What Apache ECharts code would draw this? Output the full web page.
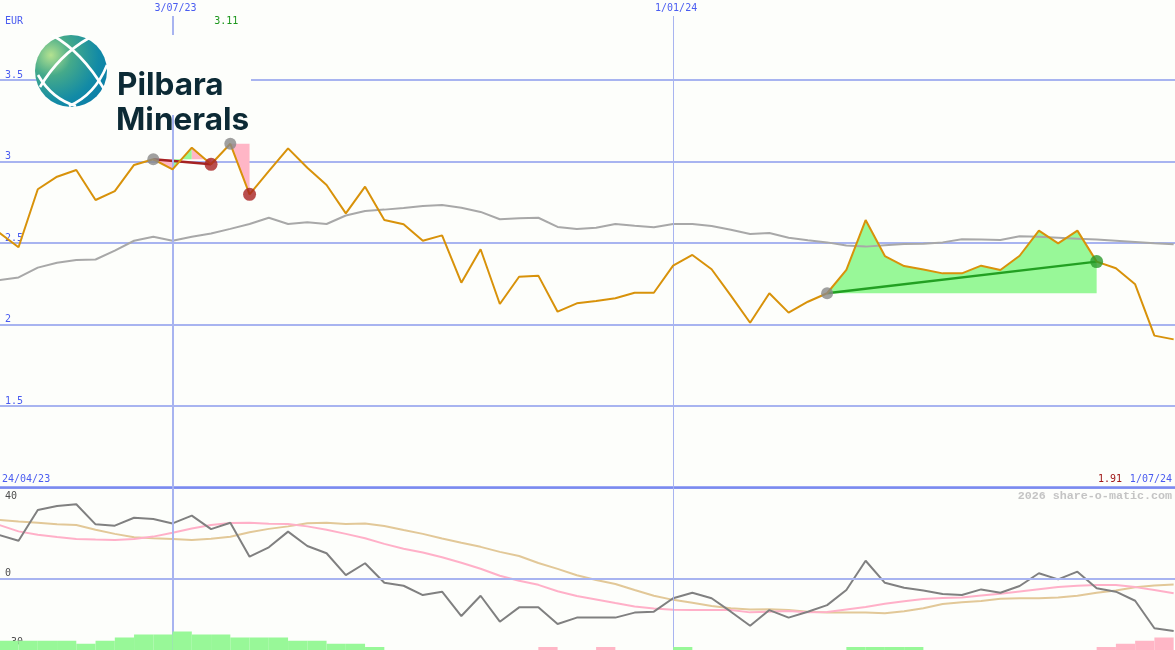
<!DOCTYPE html>
<html><head><meta charset="utf-8">
<script src="https://cdn.jsdelivr.net/npm/echarts@6/dist/echarts.min.js"></script>
<style>html,body{margin:0;padding:0;background:#fdfefb;}#c{width:1175px;height:650px;}</style>
</head><body><div id="c"></div>
<script>
// ---------- DATA (weekly points, week index k = 1..62; week 0 = 24/04/23) ----------
const startWeek = '2023-04-24';
const currency = 'EUR';
const price = [2.564,2.475,2.831,2.908,2.949,2.765,2.820,2.980,3.015,2.953,
  3.086,2.984,3.11,2.80,2.942,3.082,2.963,2.857,2.683,2.847,
  2.642,2.616,2.515,2.548,2.258,2.463,2.127,2.294,2.301,2.080,
  2.131,2.145,2.162,2.196,2.196,2.362,2.428,2.340,2.178,2.012,
  2.193,2.074,2.141,2.193,2.336,2.642,2.421,2.360,2.339,2.315,
  2.315,2.362,2.336,2.423,2.577,2.499,2.577,2.387,2.346,2.248,
  1.933,1.91];
const movingAvg = [2.274,2.29,2.35,2.38,2.397,2.40,2.455,2.515,2.54,2.515,
  2.54,2.56,2.588,2.618,2.656,2.618,2.628,2.618,2.67,2.698,
  2.706,2.716,2.728,2.734,2.718,2.692,2.647,2.653,2.656,2.600,
  2.587,2.595,2.618,2.607,2.598,2.618,2.618,2.606,2.583,2.556,
  2.562,2.533,2.518,2.505,2.486,2.479,2.488,2.495,2.497,2.505,
  2.524,2.522,2.52,2.542,2.54,2.534,2.528,2.522,2.515,2.508,
  2.50,2.493];
const oscillator = [19.2,16.7,30.2,32.0,32.7,23.9,23.3,26.8,26.2,24.3,
  27.7,21.8,24.6,9.7,13.8,20.7,14.4,11.2,1.6,6.8,
  -1.8,-3.1,-7.2,-5.7,-16.4,-7.5,-18.9,-12.6,-12.6,-19.9,
  -17.1,-17.1,-17.1,-14.9,-14.5,-8.6,-6.2,-8.6,-14.5,-20.7,
  -13.8,-17.1,-14.5,-11.6,-5.0,7.9,-1.8,-4.0,-5.2,-6.7,
  -7.2,-4.7,-6.2,-3.2,2.4,-0.3,3.1,-4.2,-5.7,-9.7,
  -21.8,-23.0];
const signalPink = [23.6,20.8,19.3,18.3,17.5,17.2,17.0,17.4,18.5,20.2,
  22.1,23.6,24.5,24.6,24.2,24.0,23.0,21.5,19.7,17.8,
  15.3,13.2,11.5,9.4,7.0,4.4,1.3,-0.9,-2.7,-5.5,
  -7.6,-9.1,-10.7,-12.2,-13.1,-13.6,-13.8,-13.8,-13.8,-14.8,
  -14.5,-14.2,-14.8,-14.6,-13.5,-12.4,-11.0,-9.9,-8.9,-8.5,
  -8.3,-7.4,-6.6,-5.6,-4.6,-3.7,-3.1,-2.8,-2.8,-3.7,
  -5.0,-6.4];
const signalTan = [25.8,25.1,24.6,23.9,23.6,21.5,19.7,18.2,17.8,17.5,
  17.0,17.6,18.4,20.4,21.9,23.0,24.4,24.6,24.0,24.3,
  23.2,21.4,19.7,17.7,15.8,14.0,11.8,10.0,6.9,4.3,
  1.5,-0.6,-2.3,-5.0,-7.5,-9.3,-10.6,-12.0,-13.0,-13.5,
  -13.4,-13.8,-14.5,-14.9,-14.9,-14.9,-15.2,-14.3,-13.0,-11.1,
  -10.3,-9.8,-8.8,-8.6,-8.6,-8.3,-7.5,-6.2,-5.2,-3.8,
  -3.0,-2.5];
// histogram levels for the interval [k, k+1], k = 1..61 (+ green, - pink)
const histLevels = [3,3,3,3,2,3,4,5,5,6, 5,5,4,4,4,3,3,2,2,1,
  0,0,0,0,0,0,0,0,-1,0, 0,-1,0,0,0,1,0,0,0,0,
  0,0,0,0,1,1,1,1,0,0, 0,0,0,0,0,0,0,-1,-2,-3, -4];
// trades: start week, end week, won?
const trades = [{start:9,end:12,win:false,line:true},{start:13,end:14,win:false,line:false},{start:44,end:58,win:true,line:true}];
// shaded segments: [fromWeek, toWeek, sign, tradeStartWeek]
const shadeSegs = [[9,10,-1,9],[10,11,1,9],[11,12,-1,9],[13,14,-1,13],[44,58,1,44]];
const markerWeeks = [10,36];
const priceTicks = [1.5,2,2.5,3,3.5];
const oscTicks = [0,-30];
const brandLine1 = 'Pilbara', brandLine2 = 'Minerals';
const watermark = '2026 share-o-matic.com';

// week labels
const weeks = [];
(function(){const d0=new Date(startWeek+'T00:00:00Z');for(let k=0;k<=62;k++){const d=new Date(d0.getTime()+k*7*864e5);weeks.push(d.getUTCDate()+'/'+String(d.getUTCMonth()+1).padStart(2,'0')+'/'+String(d.getUTCFullYear()).slice(2));}})();

// ---------- STYLE ----------
const BG='#fdfefb', GRIDC='#a8b4f0', BLUE='#4a5cf0', MONO='"DejaVu Sans Mono", monospace';
const PINK_FILL='#ffb6c6', GREEN_FILL='#98f898';
const X_MIN=1.037, X_MAX=62.07;

const chart = echarts.init(document.getElementById('c'), null, {renderer:'canvas'});
const idx = arr => arr.map((v,i)=>[i+1,v]);

const option = {
  animation:false,
  backgroundColor:BG,
  grid:[
    {left:0,right:0,top:-1.3,height:489,containLabel:false,outerBoundsMode:'none'},
    {left:0,right:0,top:487.7,height:182,containLabel:false,outerBoundsMode:'none'}
  ],
  xAxis:[
    {gridIndex:0,type:'value',min:X_MIN,max:X_MAX,position:'bottom',
     axisLine:{show:true,onZero:false,lineStyle:{color:'#7a8af0',width:2.5}},axisTick:{show:false},axisLabel:{show:false},splitLine:{show:false}},
    {gridIndex:1,type:'value',min:X_MIN,max:X_MAX,axisLine:{show:false},axisTick:{show:false},axisLabel:{show:false},splitLine:{show:false}}
  ],
  yAxis:[
    {gridIndex:0,type:'value',min:1,max:4,interval:0.5,axisLine:{show:false},axisTick:{show:false},
     splitLine:{show:true,lineStyle:{color:GRIDC,width:2}},
     axisLabel:{inside:true,margin:5,verticalAlign:'bottom',color:BLUE,fontFamily:MONO,fontSize:10,
       showMinLabel:true,showMaxLabel:true,
       formatter:v=>priceTicks.includes(v)?String(v):''}},
    {gridIndex:1,type:'value',min:-40,max:40,interval:10,axisLine:{show:false},axisTick:{show:false},
     splitLine:{show:false},
     axisLabel:{inside:true,margin:5,verticalAlign:'bottom',color:'#4d4d4d',fontFamily:MONO,fontSize:10,
       formatter:v=>oscTicks.includes(v)?String(v):''}},
    {gridIndex:1,type:'value',min:-6.355,max:52.355,show:false}
  ],
  series:[
    {type:'custom',name:'shade',xAxisIndex:0,yAxisIndex:0,z:2,clip:true,
     data:shadeSegs,encode:{x:[0,1],y:2},
     renderItem:(params,api)=>{
       const a=api.value(0),b=api.value(1),s=api.value(2),lk=api.value(3);
       const lvl=price[lk-1];const pts=[];
       for(let k=a;k<=b;k++)pts.push(api.coord([k,price[k-1]]));
       pts.push(api.coord([b,lvl]));pts.push(api.coord([a,lvl]));
       return {type:'polygon',shape:{points:pts},style:{fill:s>0?GREEN_FILL:PINK_FILL}};
     }},
    {type:'line',name:'ma',xAxisIndex:0,yAxisIndex:0,z:3,data:idx(movingAvg),symbol:'none',
     lineStyle:{color:'#a8a8a8',width:2},
     markLine:{silent:true,symbol:'none',label:{show:false},
       data:markerWeeks.map((k,i)=>({xAxis:k,lineStyle:{color:GRIDC,width:i===0?2:1,type:'solid'}}))}},
    ...trades.filter(t=>t.line).map(t=>({type:'line',xAxisIndex:0,yAxisIndex:0,z:4,symbol:'none',
      data:[[t.start,price[t.start-1]],[t.end,price[t.end-1]]],
      lineStyle:{color:t.win?'#22a022':'#a52222',width:2.5}})),
    {type:'line',name:'price',xAxisIndex:0,yAxisIndex:0,z:5,data:idx(price),symbol:'none',
     lineStyle:{color:'#d8920a',width:2}},
    {type:'scatter',xAxisIndex:0,yAxisIndex:0,z:6,symbolSize:12,
     data:trades.map(t=>[t.start,price[t.start-1]]),itemStyle:{color:'#888888'}},
    {type:'scatter',xAxisIndex:0,yAxisIndex:0,z:6,symbolSize:13,
     data:trades.map(t=>({value:[t.end,price[t.end-1]],itemStyle:{color:t.win?'#2a9a2a':'#a82222'}}))},
    // lower panel
    {type:'line',name:'tan',xAxisIndex:1,yAxisIndex:1,z:3,data:idx(signalTan),symbol:'none',
     lineStyle:{color:'#e2c898',width:2},
     markLine:{silent:true,symbol:'none',label:{show:false},
       data:[...markerWeeks.map((k,i)=>({xAxis:k,lineStyle:{color:GRIDC,width:i===0?2:1,type:'solid'}})),
             {yAxis:0,lineStyle:{color:GRIDC,width:2,type:'solid'}}]}},
    {type:'line',name:'pink',xAxisIndex:1,yAxisIndex:1,z:3,data:idx(signalPink),symbol:'none',
     lineStyle:{color:'#ffb0c8',width:2}},
    {type:'line',name:'osc',xAxisIndex:1,yAxisIndex:1,z:4,data:idx(oscillator),symbol:'none',
     lineStyle:{color:'#808080',width:2}},
    {type:'custom',name:'hist',xAxisIndex:1,yAxisIndex:2,z:5,clip:true,
     data:idx(histLevels),encode:{x:0,y:1},
     renderItem:(params,api)=>{
       const k=api.value(0),L=api.value(1);if(!L)return null;
       const p1=api.coord([k,Math.abs(L)]),p2=api.coord([k+1,0]);
       return {type:'rect',shape:{x:p1[0],y:p1[1],width:p2[0]-p1[0],height:p2[1]-p1[1]},style:{fill:L>0?GREEN_FILL:PINK_FILL}};
     }}
  ]
};
chart.setOption(option);

// ---------- TEXT + LOGO ----------
const P0 = (k,v)=>chart.convertToPixel({xAxisIndex:0,yAxisIndex:0},[k,v]);
const txt = (text,x,y,fill,align,extra)=>Object.assign({type:'text',x:x,y:y,z:100,silent:true,
  style:Object.assign({text:text,fill:fill,font:'10px '+MONO,align:align||'left',verticalAlign:'middle'},extra||{})});
const maxK = price.indexOf(Math.max(...price))+1;
const last = price[price.length-1];
const g = [];
// logo backdrop
g.push({type:'rect',z:90,silent:true,shape:{x:37,y:35,width:214,height:80},style:{fill:BG}});
g.push({type:'circle',z:95,silent:true,shape:{cx:71,cy:71,r:36},
  style:{fill:new echarts.graphic.RadialGradient(0.22,0.28,0.95,[
    {offset:0,color:'#b4e290'},{offset:0.3,color:'#45aa8a'},{offset:0.7,color:'#128aa6'},{offset:1,color:'#0a7aa8'}])}});
[[52,35,82,52,104,89],[89,38,59,55,40,87],[107,65,95,95,69,106],[38,75,52,99,76,106]].forEach(c=>{
  g.push({type:'bezierCurve',z:96,silent:true,shape:{x1:c[0],y1:c[1],cpx1:c[2],cpy1:c[3],x2:c[4],y2:c[5]},
    style:{stroke:'#ffffff',lineWidth:2.6,fill:null}});
});
g.push({type:'text',z:96,silent:true,x:117,y:69.5,style:{text:brandLine1,fill:'#0c2a35',font:'700 31.5px Inter',align:'left',verticalAlign:'alphabetic'}});
g.push({type:'text',z:96,silent:true,x:116,y:104.5,style:{text:brandLine2,fill:'#0c2a35',font:'700 31.5px Inter',align:'left',verticalAlign:'alphabetic'}});
// labels
g.push(txt(currency,5,21,BLUE));
markerWeeks.forEach(k=>g.push(txt(weeks[k],P0(k,1)[0]+3,8,BLUE,'center',{backgroundColor:BG,padding:[2,3,4,3]})));
g.push(txt(price[maxK-1].toFixed(2),P0(maxK,1)[0]-4,21,'#1c961c','center'));
g.push(txt(weeks[0],2,479,BLUE));
g.push(txt(weeks[62],1172,479,BLUE,'right'));
g.push(txt(last.toFixed(2),1122,479,'#a01818','right'));
g.push(txt(watermark,1172,496,'#c4c4c4','right',{font:'bold 11.7px "Liberation Mono", monospace'}));
g.push(txt('40',5,496,'#4d4d4d'));
chart.setOption({graphic:{elements:g}});
</script></body></html>
